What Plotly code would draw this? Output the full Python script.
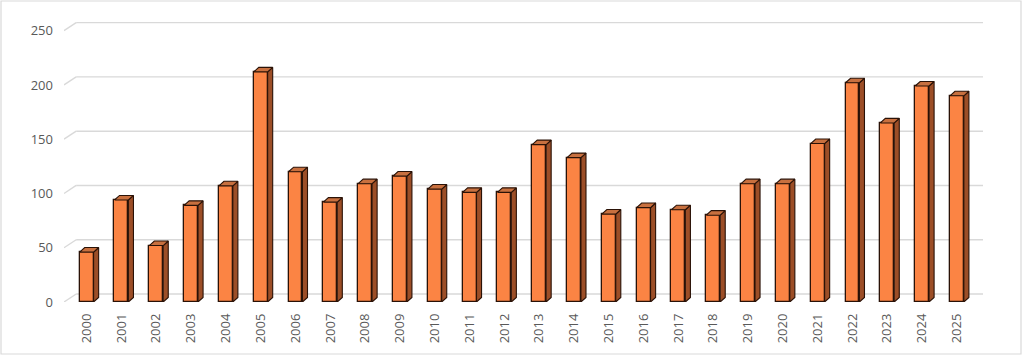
import plotly.graph_objects as go

years = [str(y) for y in range(2000, 2026)]
values = [46, 94, 52, 89, 107, 212, 120, 92, 109, 116, 104, 101, 101, 145, 133,
          81, 87, 85, 80, 109, 109, 146, 202, 165, 199, 190]
y_ticks = [0, 50, 100, 150, 200, 250]

FRONT = "#FB8444"
SIDE = "#9C4E27"
TOP = "#C8703F"
EDGE = "#2A1207"
GRID = "#D9D9D9"
TXT = "#595959"

hw = 0.2      # half bar width (category units)
dx = 0.145    # bar depth offset in x
dy = 4.2      # bar depth offset in value units
gdx = 0.35    # back-wall offset in x
gdy = 7.4     # back-wall offset in value units
x0, x1 = -0.65, 25.75

xs = list(range(len(years)))

fig = go.Figure()
fig.add_trace(go.Bar(x=xs, y=values, width=2 * hw, marker=dict(color=FRONT, line=dict(color=EDGE, width=1.3)),
                     hoverinfo="skip"))

sx, sy, tx, ty = [], [], [], []
for i, v in zip(xs, values):
    sx += [i + hw, i + hw, i + hw + dx, i + hw + dx, i + hw, None]
    sy += [0, v, v + dy, dy, 0, None]
    tx += [i - hw, i + hw, i + hw + dx, i - hw + dx, i - hw, None]
    ty += [v, v, v + dy, v + dy, v, None]
fig.add_trace(go.Scatter(x=sx, y=sy, mode="lines", fill="toself", fillcolor=SIDE,
                         line=dict(color=EDGE, width=1.1), hoverinfo="skip"))
fig.add_trace(go.Scatter(x=tx, y=ty, mode="lines", fill="toself", fillcolor=TOP,
                         line=dict(color=EDGE, width=1.1), hoverinfo="skip"))

shapes = []
for t in y_ticks:
    shapes.append(dict(type="line", xref="x", yref="y", x0=x0 + gdx, x1=x1, y0=t + gdy, y1=t + gdy,
                       line=dict(color=GRID, width=1.4), layer="below"))
    shapes.append(dict(type="line", xref="x", yref="y", x0=x0, x1=x0 + gdx, y0=t, y1=t + gdy,
                       line=dict(color=GRID, width=1.4), layer="below"))

# chart area border
L, T, W, H = 64, 22, 919, 280
shapes.append(dict(type="rect", xref="paper", yref="paper",
                   x0=(1 - L) / W, x1=(1021 - L) / W, y0=(T + H - 354) / H, y1=(T + H - 1) / H,
                   line=dict(color=GRID, width=1.2), fillcolor="rgba(0,0,0,0)", layer="below"))

fig.update_layout(
    width=1024, height=356,
    margin=dict(l=L, r=1024 - L - W, t=T, b=356 - T - H),
    paper_bgcolor="white", plot_bgcolor="white",
    showlegend=False, bargap=0,
    shapes=shapes,
    font=dict(family="Open Sans, DejaVu Sans, sans-serif", size=12, color=TXT),
    xaxis=dict(range=[x0, x1], tickvals=xs, ticktext=years, tickangle=-90,
               showgrid=False, zeroline=False, showline=False, ticks="",
               ticklabelstandoff=8, tickfont=dict(size=13, color=TXT)),
    yaxis=dict(range=[0, 258], tickvals=y_ticks, showgrid=False, zeroline=False,
               showline=False, ticks="", ticklabelstandoff=10,
               tickfont=dict(size=13, color=TXT)),
)

fig.write_html("out.html", config={"displayModeBar": False},
               post_script="document.body.style.margin='0';document.body.style.overflow='hidden';")
